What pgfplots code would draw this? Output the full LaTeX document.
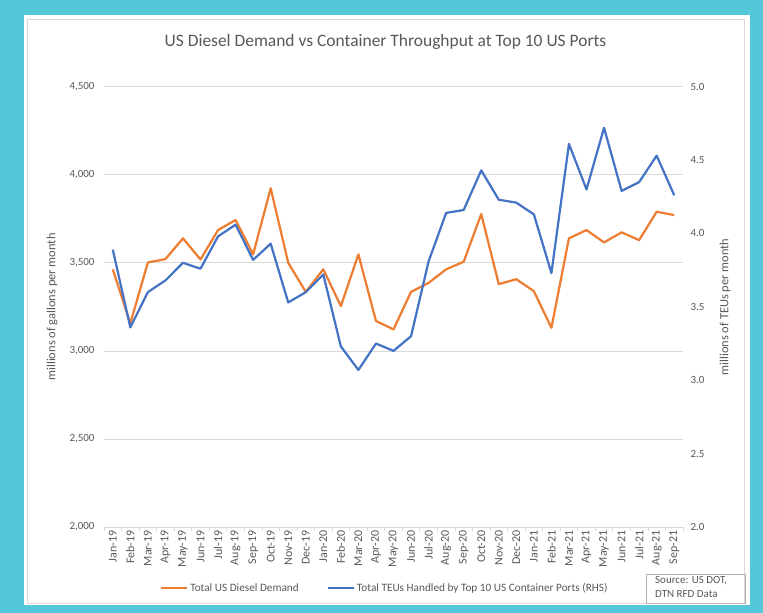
\documentclass[border=0pt]{standalone}
\usepackage{fontspec}
\setmainfont{Carlito}
\usepackage{pgfplots}
\usepackage{pgfplotstable}
\pgfplotsset{compat=1.18}

\definecolor{framec}{RGB}{84,199,216}
\definecolor{dieselc}{RGB}{237,125,49}
\definecolor{teuc}{RGB}{68,114,196}
\definecolor{txt}{RGB}{89,89,89}
\definecolor{gridc}{RGB}{217,217,217}

% diesel: million gallons per month (left), teu: millions of TEUs (right)
\pgfplotstableread{
idx month diesel teu
0 Jan-19 3463 3.89
1 Feb-19 3156 3.36
2 Mar-19 3502 3.60
3 Apr-19 3521 3.68
4 May-19 3639 3.80
5 Jun-19 3519 3.76
6 Jul-19 3686 3.98
7 Aug-19 3743 4.06
8 Sep-19 3548 3.82
9 Oct-19 3923 3.93
10 Nov-19 3500 3.53
11 Dec-19 3335 3.60
12 Jan-20 3463 3.72
13 Feb-20 3254 3.23
14 Mar-20 3548 3.07
15 Apr-20 3170 3.25
16 May-20 3122 3.20
17 Jun-20 3335 3.30
18 Jul-20 3386 3.81
19 Aug-20 3463 4.14
20 Sep-20 3506 4.16
21 Oct-20 3777 4.43
22 Nov-20 3379 4.23
23 Dec-20 3407 4.21
24 Jan-21 3339 4.13
25 Feb-21 3131 3.73
26 Mar-21 3639 4.61
27 Apr-21 3686 4.30
28 May-21 3616 4.72
29 Jun-21 3673 4.29
30 Jul-21 3629 4.35
31 Aug-21 3790 4.53
32 Sep-21 3771 4.26
}\datatab

\pgfplotsset{
  common/.style={
    scale only axis,
    width=579bp, height=440.3bp,
    at={(104bp,86bp)}, anchor=south west,
    xmin=-0.5, xmax=32.5,
    /pgf/number format/assume math mode=true,
    ticklabel style={font=\fontsize{11}{13}\selectfont, text=txt},
    label style={font=\fontsize{12.5}{14}\selectfont, text=txt},
    major tick length=0pt,
  },
}

\begin{document}
\begin{tikzpicture}
% frame
\fill[framec] (0bp,0bp) rectangle (763bp,613bp);
\fill[white] (24bp,8bp) rectangle (750bp,598bp);
\draw[gridc, line width=0.75bp] (27bp,10bp) rectangle (744bp,594bp);

\node[font=\fontsize{17.5}{20}\selectfont, text=txt] at (385.5bp,571bp)
  {US Diesel Demand vs Container Throughput at Top 10 US Ports};

\begin{axis}[common,
  ymin=2000, ymax=4500, ytick={2000,2500,...,4500},
  axis x line*=bottom, axis y line*=left,
  y axis line style={draw=none},
  x axis line style={gridc, line width=0.75bp, -},
  ymajorgrids, grid style={gridc, line width=0.75bp},
  yticklabel style={xshift=-6bp},
  xtick=data, xticklabels from table={\datatab}{month},
  x tick label style={rotate=90, anchor=east, font=\fontsize{12}{13}\selectfont},
  minor xtick={-0.5,0.5,...,32.5}, minor tick length=4bp, tick align=outside,
  minor tick style={gridc, line width=0.75bp},
  ylabel={millions of gallons per month},
  ylabel style={at={(axis description cs:-0.0898,0.5)}, anchor=center},
  legend style={at={(axis description cs:0.485,-0.139)}, anchor=center,
    draw=none, fill=none, legend columns=2, font=\fontsize{11.3}{13}\selectfont,
    text=txt, /tikz/every even column/.append style={column sep=26bp}},
  legend image code/.code={\draw[#1] (0bp,0bp) -- (26bp,0bp);},
]
\addplot[dieselc, line width=2.2bp, line join=round] table[x=idx, y=diesel] {\datatab};
\addlegendentry{Total US Diesel Demand}
\addlegendimage{teuc, line width=2.2bp}
\addlegendentry{Total TEUs Handled by Top 10 US Container Ports (RHS)}
\end{axis}

\begin{axis}[common,
  ymin=2, ymax=5, ytick={2,2.5,...,5},
  axis y line*=right, axis x line=none,
  y axis line style={draw=none},
  yticklabel style={xshift=4bp, /pgf/number format/fixed,
    /pgf/number format/fixed zerofill, /pgf/number format/precision=1},
  ylabel={millions of TEUs per month},
  ylabel style={at={(axis description cs:1.0725,0.5)}, anchor=center},
]
\addplot[teuc, line width=2.2bp, line join=round] table[x=idx, y=teu] {\datatab};
\end{axis}

% source box
\draw[gray!60] (646bp,10bp) rectangle (745bp,39bp);
\node[anchor=north west, align=left, inner sep=0pt, font=\fontsize{11}{14}\selectfont, text=txt]
  at (655bp,37bp) {Source: US DOT,\\DTN RFD Data};
\end{tikzpicture}
\end{document}
